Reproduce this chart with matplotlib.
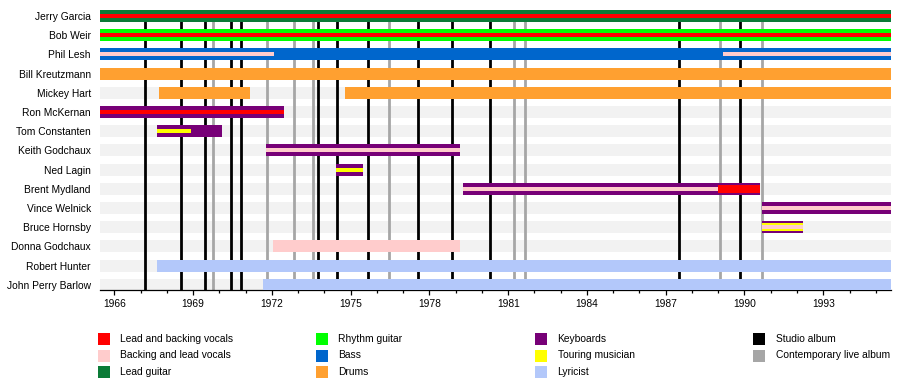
import matplotlib
matplotlib.use('Agg')
import matplotlib.pyplot as plt
from matplotlib.patches import Rectangle

plt.rcParams['font.family'] = ['Liberation Sans', 'DejaVu Sans']

# band members, top to bottom
members = ['Jerry Garcia', 'Bob Weir', 'Phil Lesh', 'Bill Kreutzmann', 'Mickey Hart',
           'Ron McKernan', 'Tom Constanten', 'Keith Godchaux', 'Ned Lagin', 'Brent Mydland',
           'Vince Welnick', 'Bruce Hornsby', 'Donna Godchaux', 'Robert Hunter', 'John Perry Barlow']

start_date = 1965.455
end_date = 1995.58

colors = {
    'lead_vocals': '#ff0000',
    'backing_vocals': '#ffcccc',
    'lead_guitar': '#0b7b37',
    'rhythm_guitar': '#00ff00',
    'bass': '#0066cc',
    'drums': '#ffa030',
    'keyboards': '#770077',
    'touring': '#ffff00',
    'lyricist': '#b3c8fa',
    'studio': '#000000',
    'live': '#a6a6a6',
}

# full height bars: member, from, till, role
bar_member = ['Jerry Garcia', 'Bob Weir', 'Phil Lesh', 'Bill Kreutzmann', 'Mickey Hart', 'Mickey Hart',
              'Ron McKernan', 'Tom Constanten', 'Keith Godchaux', 'Ned Lagin', 'Brent Mydland',
              'Vince Welnick', 'Bruce Hornsby', 'Donna Godchaux', 'Robert Hunter', 'John Perry Barlow']
bar_from = [1965.455, 1965.455, 1965.455, 1965.455, 1967.70, 1974.79,
            1965.455, 1967.61, 1971.78, 1974.44, 1979.27,
            1990.67, 1990.67, 1972.06, 1967.61, 1971.67]
bar_till = [1995.58, 1995.58, 1995.58, 1995.58, 1971.17, 1995.58,
            1972.45, 1970.09, 1979.16, 1975.48, 1990.59,
            1995.58, 1992.21, 1979.16, 1995.58, 1995.58]
bar_role = ['lead_guitar', 'rhythm_guitar', 'bass', 'drums', 'drums', 'drums',
            'keyboards', 'keyboards', 'keyboards', 'keyboards', 'keyboards',
            'keyboards', 'keyboards', 'backing_vocals', 'lyricist', 'lyricist']

# wider inner stripes
wide_member = ['Brent Mydland', 'Bruce Hornsby']
wide_from = [1989.00, 1990.67]
wide_till = [1990.59, 1992.21]
wide_role = ['lead_vocals', 'touring']

# thin inner stripes
thin_member = ['Jerry Garcia', 'Bob Weir', 'Phil Lesh', 'Phil Lesh', 'Ron McKernan', 'Tom Constanten',
               'Keith Godchaux', 'Ned Lagin', 'Brent Mydland', 'Vince Welnick', 'Bruce Hornsby']
thin_from = [1965.455, 1965.455, 1965.455, 1989.17, 1965.455, 1967.61,
             1971.78, 1974.44, 1979.27, 1990.67, 1990.67]
thin_till = [1995.58, 1995.58, 1972.08, 1995.58, 1972.45, 1968.92,
             1979.16, 1975.48, 1989.00, 1995.58, 1992.21]
thin_role = ['lead_vocals', 'lead_vocals', 'backing_vocals', 'backing_vocals', 'lead_vocals', 'touring',
             'backing_vocals', 'touring', 'backing_vocals', 'backing_vocals', 'backing_vocals']

studio_albums = [1967.17, 1968.55, 1969.47, 1970.45, 1970.83, 1973.77, 1974.49,
                 1975.67, 1977.58, 1978.85, 1980.32, 1987.52, 1989.84]
live_albums = [1969.77, 1971.80, 1972.85, 1973.55, 1976.47, 1981.23, 1981.65, 1989.07, 1990.68]

year_ticks = [1966, 1969, 1972, 1975, 1978, 1981, 1984, 1987, 1990, 1993]
minor_ticks = list(range(1966, 1996))

legend_cols = [
    [('Lead and backing vocals', 'lead_vocals'), ('Backing and lead vocals', 'backing_vocals'), ('Lead guitar', 'lead_guitar')],
    [('Rhythm guitar', 'rhythm_guitar'), ('Bass', 'bass'), ('Drums', 'drums')],
    [('Keyboards', 'keyboards'), ('Touring musician', 'touring'), ('Lyricist', 'lyricist')],
    [('Studio album', 'studio'), ('Contemporary live album', 'live')],
]

W, H = 900, 390
fig = plt.figure(figsize=(9, 3.9), dpi=100)
ax = fig.add_axes([100 / W, 100 / H, 791 / W, 280 / H])

ypos = {m: i for i, m in enumerate(members)}
bar_h = 0.62

# grey row backgrounds
ax.barh(range(len(members)), end_date - start_date, left=start_date, height=bar_h,
        color='#f2f2f2', linewidth=0, zorder=1)

# album release lines
for x in studio_albums:
    ax.axvline(x, color=colors['studio'], lw=2.0, zorder=2)
for x in live_albums:
    ax.axvline(x, color=colors['live'], lw=2.0, zorder=2)

for m, a, b, r in zip(bar_member, bar_from, bar_till, bar_role):
    ax.barh(ypos[m], b - a, left=a, height=bar_h, color=colors[r], linewidth=0, zorder=3)
for m, a, b, r in zip(wide_member, wide_from, wide_till, wide_role):
    ax.barh(ypos[m], b - a, left=a, height=0.39, color=colors[r], linewidth=0, zorder=4)
for m, a, b, r in zip(thin_member, thin_from, thin_till, thin_role):
    ax.barh(ypos[m], b - a, left=a, height=0.2, color=colors[r], linewidth=0, zorder=5)

ax.set_xlim(start_date, end_date)
ax.set_ylim(14.27, -0.31)
for s in ['top', 'right', 'left']:
    ax.spines[s].set_visible(False)
ax.spines['bottom'].set_linewidth(0.9)
ax.set_yticks(range(len(members)))
ax.set_yticklabels(members, fontsize=7.4)
ax.tick_params(axis='y', length=0, pad=6.5)
ax.set_xticks(year_ticks)
ax.set_xticklabels([str(y) for y in year_ticks], fontsize=7.4)
ax.set_xticks(minor_ticks, minor=True)
ax.tick_params(axis='x', which='major', length=3.6, width=0.9, pad=3)
ax.tick_params(axis='x', which='minor', length=2.2, width=0.9)

# legend below the chart
col_x = [98, 316, 535, 753]
row_y = [333, 349.5, 366]
for cx, col in zip(col_x, legend_cols):
    for ry, (label, key) in zip(row_y, col):
        fig.add_artist(Rectangle((cx / W, 1 - (ry + 12) / H), 12 / W, 12 / H,
                                 transform=fig.transFigure, color=colors[key], linewidth=0))
        fig.text((cx + 22.5) / W, 1 - (ry + 6) / H, label, fontsize=7.4, va='center', ha='left')

plt.savefig('out.png', dpi=100)
